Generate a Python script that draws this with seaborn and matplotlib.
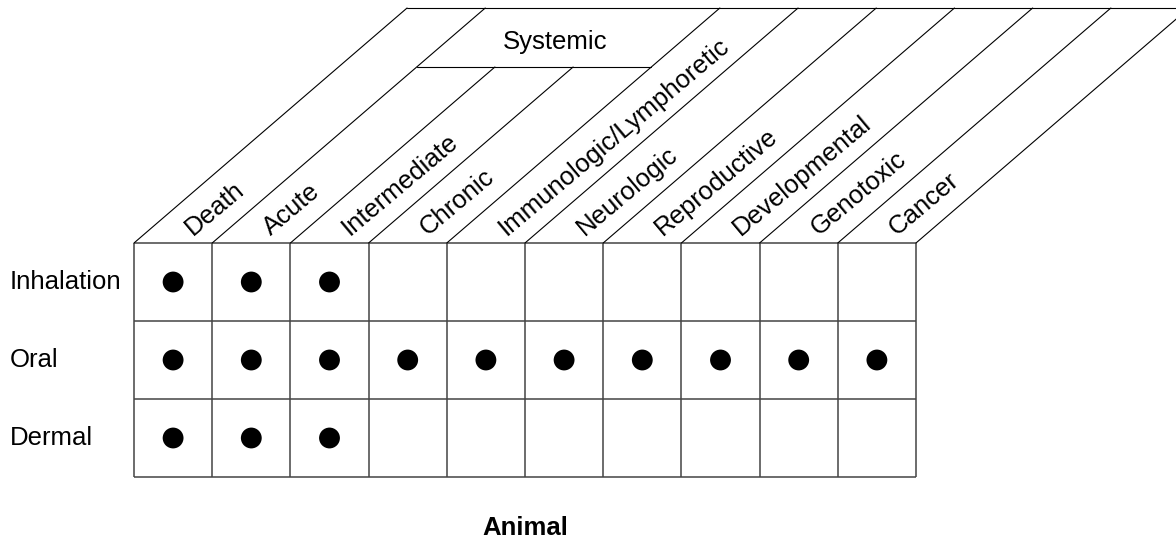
import numpy as np
import pandas as pd
import matplotlib
matplotlib.use("Agg")
import matplotlib.pyplot as plt
import seaborn as sns

# ---- data ----
categories = ["Death", "Acute", "Intermediate", "Chronic", "Immunologic/Lymphoretic",
              "Neurologic", "Reproductive", "Developmental", "Genotoxic", "Cancer"]
routes = ["Inhalation", "Oral", "Dermal"]
inhalation = [1, 1, 1, 0, 0, 0, 0, 0, 0, 0]
oral = [1, 1, 1, 1, 1, 1, 1, 1, 1, 1]
dermal = [1, 1, 1, 0, 0, 0, 0, 0, 0, 0]
group_label = "Systemic"
group_span = ["Acute", "Chronic"]
footer = "Animal"

sns.set_style("white")
plt.rcParams["font.family"] = ["Liberation Sans", "DejaVu Sans"]

W, H = 1176, 542
fig = plt.figure(figsize=(W / 100, H / 100), dpi=100)
ax = fig.add_axes([0, 0, 1, 1])

# pixel geometry -> data units
x0px, y0px = 134.0, 243.0
cw, rh = 78.2, 78.0
ax.set_xlim(-x0px / cw, (W - x0px) / cw)
ax.set_ylim((H - y0px) / rh, -y0px / rh)
ax.axis("off")

ncol, nrow = len(categories), len(routes)
lc = "#444444"
lw = 1.1

# grid
for r in range(nrow + 1):
    ax.plot([0, ncol], [r, r], color=lc, lw=lw, solid_capstyle="butt")
for c in range(ncol + 1):
    ax.plot([c, c], [0, nrow], color=lc, lw=lw, solid_capstyle="butt")

# slanted header lines
slope = 1.159  # x shift per unit rise
y_top = (8 - y0px) / rh
y_sys = (67 - y0px) / rh
i_a = categories.index(group_span[0])
i_b = categories.index(group_span[1])
for c in range(ncol + 1):
    yend = y_sys if (i_a < c <= i_b) else y_top
    ax.plot([c, c + slope * (-yend)], [0, yend], color="black", lw=0.8)
ax.plot([slope * (-y_top), ncol + slope * (-y_top) + 1], [y_top, y_top], color="black", lw=0.8)
ax.plot([i_a + slope * (-y_sys), i_b + 1 + slope * (-y_sys)], [y_sys, y_sys], color="black", lw=0.8)

fs = 18.5
ang = 40.0
for i, name in enumerate(categories):
    ax.text(i + 1 - 19 / cw, (236 - y0px) / rh, name, rotation=ang, rotation_mode="anchor",
            ha="left", va="baseline", fontsize=fs, color="black")

ax.text((555 - x0px) / cw, (49 - y0px) / rh, group_label, ha="center", va="baseline",
        fontsize=fs, color="black")

for r, name in enumerate(routes):
    ax.text((10 - x0px) / cw, r + 0.5, name, ha="left", va="center", fontsize=fs, color="black")

ax.text(ncol / 2, (535 - y0px) / rh, footer, ha="center", va="baseline", fontsize=fs,
        fontweight="bold", color="black")

# dots
rows = []
for r, vals in enumerate([inhalation, oral, dermal]):
    for c, v in enumerate(vals):
        if v:
            rows.append({"x": c + 0.5, "y": r + 0.5})
df = pd.DataFrame(rows)
sns.scatterplot(data=df, x="x", y="y", ax=ax, s=225, color="black", edgecolor="none",
                legend=False)
ax.set_xlim(-x0px / cw, (W - x0px) / cw)
ax.set_ylim((H - y0px) / rh, -y0px / rh)
ax.axis("off")

fig.savefig("out.png", dpi=100, facecolor="white")
